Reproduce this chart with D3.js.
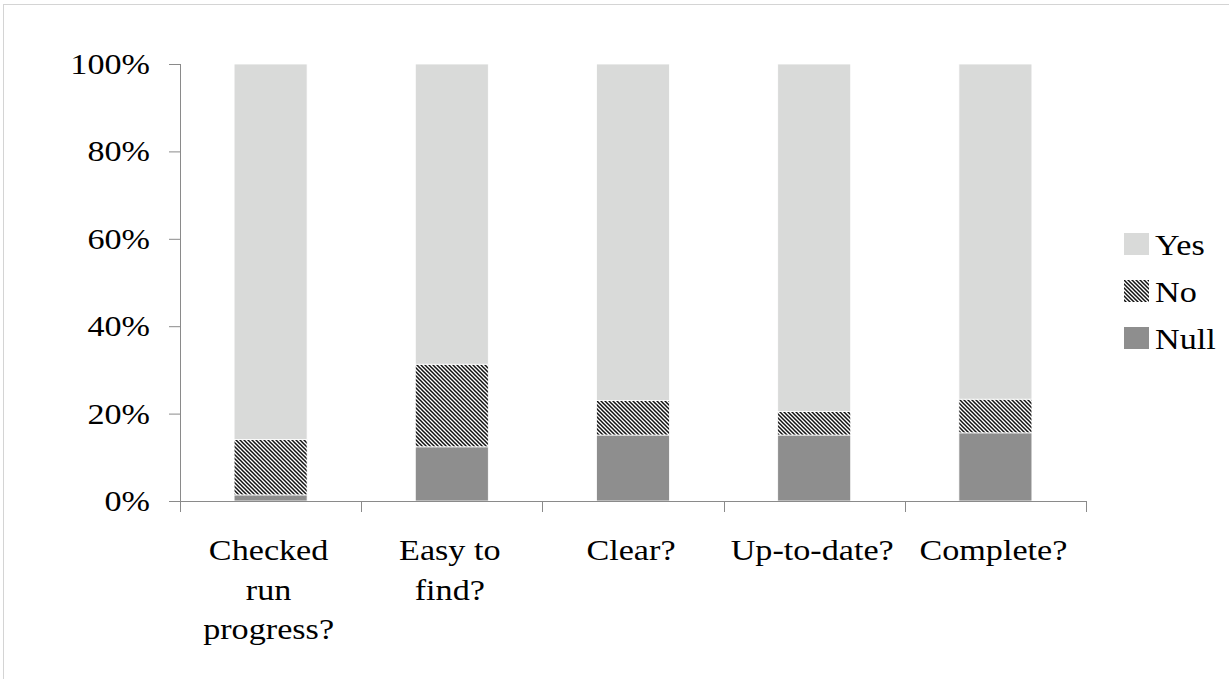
<!DOCTYPE html>
<html>
<head>
<meta charset="utf-8">
<script src="https://cdn.jsdelivr.net/npm/d3@7"></script>
<style>
  html, body { margin: 0; padding: 0; background: #fff; }
  svg { display: block; }
</style>
</head>
<body>
<svg id="chart" width="1229" height="679"></svg>
<script>
// Survey questions (x categories), with the line breaks used under the axis
const categories = ["Checked run progress?", "Easy to find?", "Clear?", "Up-to-date?", "Complete?"];
const categoryLines = [["Checked", "run", "progress?"], ["Easy to", "find?"], ["Clear?"], ["Up-to-date?"], ["Complete?"]];

// Share of answers per question, in percent
const nullValues = [1.4, 12.4, 15.1, 15.1, 15.6];
const noValues   = [12.7, 18.9, 7.9, 5.4, 7.7];
const yesValues  = [85.9, 68.7, 77.0, 79.5, 76.7];

const seriesNames = ["Null", "No", "Yes"];
const yTicks = [0, 20, 40, 60, 80, 100];
const legendOrder = ["Yes", "No", "Null"];

const svg = d3.select("#chart");
const W = 1229, H = 679;
const plot = { left: 180, right: 1086, top: 64, bottom: 501 };
const FONT = 30.5, STRETCH = 1.12;
const FAMILY = "'Liberation Serif', 'Times New Roman', Times, serif";

// light frame around the figure
svg.append("rect")
  .attr("x", 3.5).attr("y", 4.5)
  .attr("width", W + 10).attr("height", H + 10)
  .attr("fill", "none").attr("stroke", "#d4d4d4").attr("stroke-width", 1);

// hatch pattern for "No"
const defs = svg.append("defs");
const pat = defs.append("pattern")
  .attr("id", "hatch").attr("patternUnits", "userSpaceOnUse")
  .attr("width", 4).attr("height", 4);
pat.append("rect").attr("width", 4).attr("height", 4).attr("fill", "#fff");
pat.append("path")
  .attr("d", "M-1,-1 L5,5 M-1,3 L1,5 M3,-1 L5,1")
  .attr("stroke", "#111").attr("stroke-width", 1.5);

const fills = { Null: "#8e8e8e", No: "url(#hatch)", Yes: "#d9dad9" };

// rows for the stack
const rows = categories.map((c, i) => ({ category: c, Null: nullValues[i], No: noValues[i], Yes: yesValues[i] }));
const stacked = d3.stack().keys(seriesNames)(rows);

const x = d3.scaleBand().domain(categories).range([plot.left, plot.right]).padding(0);
const y = d3.scaleLinear().domain([0, 100]).range([plot.bottom, plot.top]);
const barFrac = 0.403;

// helper: text with the slightly widened letterforms
function stretchedText(g, tx, ty, str, anchor) {
  return g.append("text")
    .attr("transform", `translate(${tx},${ty}) scale(${STRETCH},1)`)
    .attr("text-anchor", anchor)
    .attr("font-family", FAMILY)
    .attr("font-size", FONT)
    .attr("fill", "#000")
    .text(str);
}

// bars
svg.append("g").selectAll("g")
  .data(stacked)
  .join("g")
    .attr("fill", d => fills[d.key])
  .selectAll("rect")
  .data(d => d)
  .join("rect")
    .attr("x", d => x(d.data.category) + x.bandwidth() * (1 - barFrac) / 2)
    .attr("width", x.bandwidth() * barFrac)
    .attr("y", d => y(d[1]))
    .attr("height", d => y(d[0]) - y(d[1]))
    .attr("stroke", "#fff").attr("stroke-width", 0.8);

// y axis
const axisColor = "#8a8a8a";
const yAxis = svg.append("g").attr("transform", `translate(${plot.left},0)`)
  .call(d3.axisLeft(y).tickValues(yTicks).tickSize(11).tickFormat(""));
yAxis.select(".domain").attr("stroke", axisColor).attr("d", `M0.5,${plot.top}V${plot.bottom}`);
yAxis.selectAll(".tick line").attr("stroke", axisColor);
const yLab = svg.append("g");
yTicks.forEach(t => stretchedText(yLab, 150, y(t) + 10, t + "%", "end"));

// x axis with ticks at category boundaries
const xAxisG = svg.append("g").attr("transform", `translate(0,${plot.bottom})`);
xAxisG.append("line")
  .attr("x1", plot.left).attr("x2", plot.right)
  .attr("y1", 0.5).attr("y2", 0.5)
  .attr("stroke", axisColor);
const bounds = categories.map(c => x(c)).concat([x(categories[categories.length - 1]) + x.bandwidth()]);
xAxisG.selectAll("line.tk").data(bounds).join("line")
  .attr("class", "tk")
  .attr("x1", d => Math.round(d) + 0.5).attr("x2", d => Math.round(d) + 0.5)
  .attr("y1", 0).attr("y2", 11)
  .attr("stroke", axisColor);

// category labels
const xLab = svg.append("g");
categories.forEach((c, i) => {
  const cx = x(c) + x.bandwidth() / 2 - 2;
  categoryLines[i].forEach((line, j) => stretchedText(xLab, cx, 560 + j * 39.5, line, "middle"));
});

// legend
const leg = svg.append("g");
legendOrder.forEach((k, i) => {
  const yy = 233 + i * 47;
  leg.append("rect")
    .attr("x", 1124).attr("y", yy).attr("width", 25).attr("height", 22)
    .attr("fill", fills[k]);
  stretchedText(leg, 1155, yy + 22, k, "start");
});
</script>
</body>
</html>
